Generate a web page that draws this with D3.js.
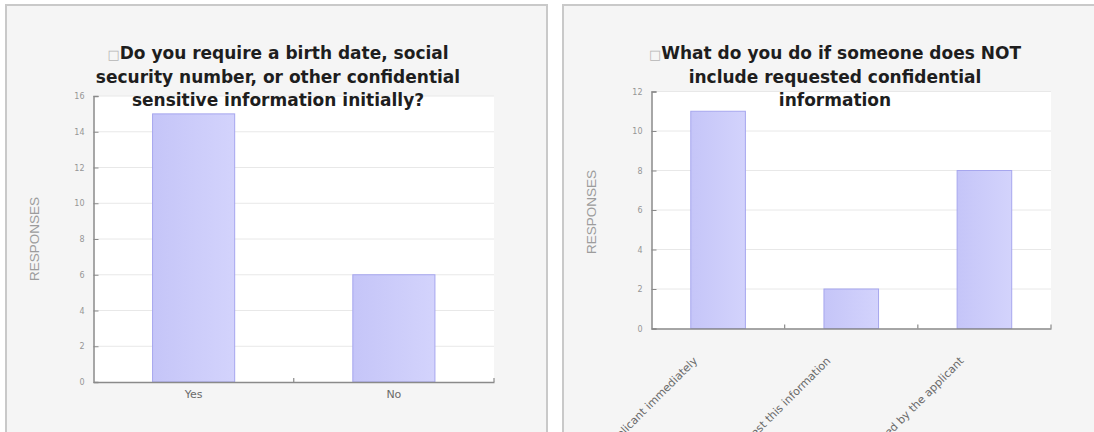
<!DOCTYPE html>
<html>
<head>
<meta charset="utf-8">
<script src="https://cdn.jsdelivr.net/npm/d3@7"></script>
<style>
  html, body { margin: 0; padding: 0; background: #ffffff; }
  svg { display: block; }
</style>
</head>
<body>
<svg id="chart" width="1094" height="432"></svg>
<script>
// ---- data ----
const titleA = ["\u25A1Do you require a birth date, social", "security number, or other confidential", "sensitive information initially?"];
const categoriesA = ["Yes", "No"];
const valuesA = [15, 6];
const yTicksA = [0, 2, 4, 6, 8, 10, 12, 14, 16];

const titleB = ["\u25A1What do you do if someone does NOT", "include requested confidential", "information"];
const categoriesB = ["Contact the applicant immediately", "Do not request this information", "Wait to be contacted by the applicant"];
const valuesB = [11, 2, 8];
const yTicksB = [0, 2, 4, 6, 8, 10, 12];

const yLabel = "RESPONSES";

// ---- drawing ----
const svg = d3.select("#chart");
const defs = svg.append("defs");
const grad = defs.append("linearGradient").attr("id", "barGrad")
  .attr("x1", "0%").attr("x2", "100%").attr("y1", "0%").attr("y2", "0%");
grad.append("stop").attr("offset", "0%").attr("stop-color", "#c5c5f8");
grad.append("stop").attr("offset", "100%").attr("stop-color", "#d3d3fc");

function drawPanel(cfg) {
  const g = svg.append("g");
  // panel
  g.append("rect").attr("x", cfg.px).attr("y", cfg.py).attr("width", cfg.pw).attr("height", 460)
    .attr("fill", "#f5f5f5").attr("stroke", "#c9c9c9").attr("stroke-width", 2);

  const x = d3.scaleBand().domain(cfg.categories).range([cfg.left, cfg.right]);
  const y = d3.scaleLinear().domain([0, d3.max(cfg.ticks)]).range([cfg.bottom, cfg.top]);

  // plot area
  g.append("rect").attr("x", cfg.left).attr("y", y(d3.max(cfg.ticks)))
    .attr("width", cfg.right - cfg.left).attr("height", cfg.bottom - y(d3.max(cfg.ticks)))
    .attr("fill", "#ffffff");

  // gridlines
  g.append("g").selectAll("line").data(cfg.ticks.filter(t => t > 0)).join("line")
    .attr("x1", cfg.left).attr("x2", cfg.right)
    .attr("y1", d => y(d)).attr("y2", d => y(d))
    .attr("stroke", "#e8e8e8").attr("stroke-width", 1);

  // bars
  const bw = x.bandwidth() * 0.41;
  g.append("g").selectAll("rect").data(cfg.values).join("rect")
    .attr("x", (d, i) => x(cfg.categories[i]) + (x.bandwidth() - bw) / 2)
    .attr("y", d => y(d))
    .attr("width", bw)
    .attr("height", d => y(0) - y(d))
    .attr("fill", "url(#barGrad)")
    .attr("stroke", "#a6a6ee").attr("stroke-width", 1);

  // y axis
  const yAxis = d3.axisLeft(y).tickValues(cfg.ticks).tickSize(-5).tickPadding(9);
  const ya = g.append("g").attr("transform", `translate(${cfg.left},0)`).call(yAxis);
  ya.select(".domain").attr("stroke", "#8a8a8a").attr("stroke-width", 1.5);
  ya.selectAll(".tick line").attr("stroke", "#8a8a8a");
  ya.selectAll(".tick text").attr("fill", "#969696").attr("font-size", 8)
    .attr("font-family", "DejaVu Sans");

  // x axis
  const xAxis = d3.axisBottom(x).tickSize(0).tickPadding(cfg.rotate ? 0 : 8);
  const xa = g.append("g").attr("transform", `translate(0,${cfg.bottom})`).call(xAxis);
  xa.select(".domain").attr("stroke", "#8a8a8a").attr("stroke-width", 1.5);
  // boundary ticks
  const bounds = cfg.categories.slice(1).map(c => x(c)).concat([cfg.right]);
  xa.selectAll(".btick").data(bounds).join("line").attr("class", "btick")
    .attr("x1", d => d).attr("x2", d => d).attr("y1", 0).attr("y2", -4)
    .attr("stroke", "#8a8a8a").attr("stroke-width", 1.2);
  const xt = xa.selectAll(".tick text").attr("fill", "#6a6a6a")
    .attr("font-family", "DejaVu Sans");
  if (cfg.rotate) {
    xt.attr("font-size", 11).attr("text-anchor", "end").attr("dy", 0)
      .attr("transform", "translate(-20,33) rotate(-45)");
  } else {
    xt.attr("font-size", 11);
  }

  // y label
  g.append("text")
    .attr("transform", `translate(${cfg.ylx},${cfg.yly}) rotate(-90)`)
    .attr("text-anchor", "middle").attr("dominant-baseline", "central")
    .attr("font-family", "Liberation Sans").attr("font-size", 13.5)
    .attr("fill", "#9c9c9c").text(yLabel);

  // title
  const t = g.append("text").attr("text-anchor", "middle")
    .attr("font-family", "DejaVu Sans").attr("font-weight", "bold")
    .attr("font-size", 17).attr("fill", "#1e1e1e");
  cfg.title.forEach((line, i) => {
    const tsp = t.append("tspan").attr("x", cfg.tx).attr("y", cfg.ty + i * 23.5);
    if (line.startsWith("\u25A1")) {
      tsp.append("tspan").attr("fill", "#b5b5b5").attr("font-weight", "normal")
        .attr("font-size", 13).text("\u25A1");
      tsp.append("tspan").text(line.slice(1));
    } else {
      tsp.text(line);
    }
  });
}

drawPanel({
  px: 6, py: 5, pw: 541,
  left: 93.5, right: 494, top: 96, bottom: 382,
  categories: categoriesA, values: valuesA, ticks: yTicksA,
  title: titleA, tx: 278, ty: 59,
  ylx: 34, yly: 239, rotate: false
});

drawPanel({
  px: 563, py: 5, pw: 560,
  left: 651.5, right: 1051, top: 91.5, bottom: 328.5,
  categories: categoriesB, values: valuesB, ticks: yTicksB,
  title: titleB, tx: 835, ty: 59,
  ylx: 591, yly: 212, rotate: true
});
</script>
</body>
</html>
